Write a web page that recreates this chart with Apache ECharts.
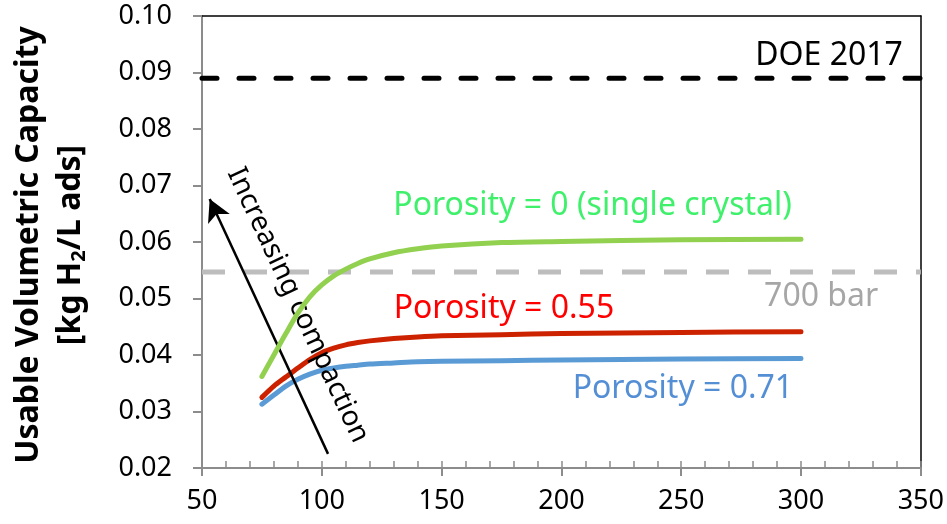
<!DOCTYPE html>
<html>
<head>
<meta charset="utf-8">
<script src="https://cdn.jsdelivr.net/npm/echarts@6/dist/echarts.min.js"></script>
<style>
  html, body { margin: 0; padding: 0; background: #ffffff; }
  #chart { width: 947px; height: 524px; }
</style>
</head>
<body>
<div id="chart"></div>
<script>
// Pressure (bar) at which the usable capacity was evaluated
const pressureBar = [75, 80, 85, 90, 95, 100, 105, 110, 115, 120, 130, 140, 150, 175, 200, 250, 300];

// Usable volumetric capacity [kg H2 / L ads]
const singleCrystal = [0.0362, 0.0400, 0.0438, 0.0474, 0.0503, 0.0524, 0.0540, 0.0552, 0.0562, 0.0570, 0.0581, 0.0588, 0.0593, 0.0599, 0.0601, 0.0604, 0.0605];
const porosity055   = [0.0325, 0.0345, 0.0361, 0.0377, 0.0392, 0.0404, 0.0412, 0.0418, 0.0422, 0.0425, 0.0429, 0.0432, 0.0434, 0.0436, 0.0438, 0.0440, 0.0441];
const porosity071   = [0.0313, 0.0329, 0.0345, 0.0357, 0.0366, 0.0373, 0.0377, 0.0380, 0.0382, 0.0384, 0.0386, 0.0388, 0.0389, 0.0390, 0.0391, 0.0393, 0.0394];

// Reference capacities
const doe2017Target = 0.089;
const compressed700 = 0.0547;

// Axis ranges
const xRange = [50, 350];
const yRange = [0.02, 0.10];

const FONT = 'Noto Sans';
const AXIS_GREY = '#8c8c8c';

function pairs(xs, ys) { return xs.map((x, i) => [x, ys[i]]); }

const chart = echarts.init(document.getElementById('chart'), null, { renderer: 'canvas' });

function textPoint(text, coord, color, rotate, size) {
  return {
    coord: coord,
    symbol: 'circle',
    symbolSize: 0,
    itemStyle: { color: 'transparent' },
    label: {
      show: true,
      position: 'inside',
      formatter: text,
      color: color,
      fontSize: size || 32,
      fontFamily: FONT,
      rotate: rotate || 0
    }
  };
}

const curveStyle = (color) => ({ width: 5, color: color, cap: 'round', join: 'round' });

const option = {
  animation: false,
  backgroundColor: '#ffffff',
  textStyle: { fontFamily: FONT },
  grid: { left: 202, right: 20, top: 16, bottom: 56, containLabel: false },
  xAxis: [
    {
      type: 'value', position: 'bottom', min: xRange[0], max: xRange[1], interval: 50,
      axisLine: { show: true, onZero: false, lineStyle: { color: AXIS_GREY, width: 2 } },
      axisTick: { show: true, inside: false, length: 8, lineStyle: { color: AXIS_GREY, width: 2 } },
      axisLabel: { color: '#000', fontSize: 27, fontFamily: FONT, margin: 20 },
      splitLine: { show: false }
    },
    {
      // minor ticks pointing into the plot
      type: 'value', position: 'bottom', min: xRange[0], max: xRange[1], interval: 10,
      axisLine: { show: false },
      axisTick: { show: true, inside: true, length: 7, lineStyle: { color: AXIS_GREY, width: 1.5 } },
      axisLabel: { show: false },
      splitLine: { show: false }
    },
    {
      // top frame
      type: 'value', position: 'top', min: xRange[0], max: xRange[1],
      axisLine: { show: true, onZero: false, lineStyle: { color: '#000', width: 1.5 } },
      axisTick: { show: false }, axisLabel: { show: false }, splitLine: { show: false }
    }
  ],
  yAxis: [
    {
      type: 'value', position: 'left', min: yRange[0], max: yRange[1], interval: 0.01,
      axisLine: { show: true, onZero: false, lineStyle: { color: AXIS_GREY, width: 2 } },
      axisTick: { show: true, inside: false, length: 9, lineStyle: { color: AXIS_GREY, width: 2 } },
      axisLabel: { color: '#000', fontSize: 27, fontFamily: FONT, margin: 30, formatter: (v) => v.toFixed(2) },
      splitLine: { show: false }
    },
    {
      // right frame
      type: 'value', position: 'right', min: yRange[0], max: yRange[1],
      axisLine: { show: true, onZero: false, lineStyle: { color: '#000', width: 1.5 } },
      axisTick: { show: false }, axisLabel: { show: false }, splitLine: { show: false }
    }
  ],
  series: [
    {
      name: '700 bar', type: 'line', xAxisIndex: 0, yAxisIndex: 0,
      data: [[xRange[0], compressed700], [xRange[1], compressed700]],
      symbol: 'none', silent: true, z: 1,
      lineStyle: { width: 5, color: '#bdbdbd', type: [23, 19], cap: 'butt' },
      markPoint: { silent: true, data: [textPoint('700 bar', [308.4, 0.0503], '#a6a6a6')] }
    },
    {
      name: 'DOE 2017', type: 'line', xAxisIndex: 0, yAxisIndex: 0,
      data: [[xRange[0], doe2017Target], [xRange[1], doe2017Target]],
      symbol: 'none', silent: true, z: 2,
      lineStyle: { width: 5, color: '#000', type: [15, 22], cap: 'round' },
      markPoint: { silent: true, data: [
        textPoint('DOE 2017', [311.7, 0.0929], '#000'),
        textPoint('Increasing compaction', [90.0, 0.0488], '#000', -65, 28)
      ] },
      markLine: {
        silent: true,
        symbol: ['none', 'arrow'],
        symbolSize: [18, 22],
        label: { show: false },
        lineStyle: { color: '#000', width: 2.5, type: 'solid' },
        data: [[{ coord: [102.6, 0.0225] }, { coord: [53.2, 0.0676] }]]
      }
    },
    {
      name: 'Porosity = 0.71', type: 'line', data: pairs(pressureBar, porosity071),
      smooth: 0.3, symbol: 'none', z: 3,
      lineStyle: curveStyle('#5b9bd5'),
      markPoint: { silent: true, data: [textPoint('Porosity = 0.71', [250.7, 0.0340], '#548fd6')] }
    },
    {
      name: 'Porosity = 0.55', type: 'line', data: pairs(pressureBar, porosity055),
      smooth: 0.3, symbol: 'none', z: 4,
      lineStyle: curveStyle('#cc2200'),
      markPoint: { silent: true, data: [textPoint('Porosity = 0.55', [176.0, 0.0481], '#ff0000')] }
    },
    {
      name: 'Porosity = 0 (single crystal)', type: 'line', data: pairs(pressureBar, singleCrystal),
      smooth: 0.3, symbol: 'none', z: 5,
      lineStyle: curveStyle('#92d050'),
      markPoint: { silent: true, data: [textPoint('Porosity = 0 (single crystal)', [213.0, 0.0664], '#3ff06b')] }
    }
  ],
  graphic: [
    {
      type: 'text',
      x: 50, y: 245,
      rotation: Math.PI / 2,
      style: {
        text: '{t|Usable Volumetric Capacity}\n{t|[kg H}{sub|2}{t|/L ads]}',
        align: 'center',
        verticalAlign: 'middle',
        fill: '#000',
        rich: {
          t: { fontSize: 32, fontWeight: 'bold', fontFamily: FONT, lineHeight: 42, fill: '#000' },
          sub: { fontSize: 20, fontWeight: 'bold', fontFamily: FONT, lineHeight: 42, padding: [16, 0, 0, 0], fill: '#000' }
        }
      }
    }
  ]
};

chart.setOption(option);
</script>
</body>
</html>
